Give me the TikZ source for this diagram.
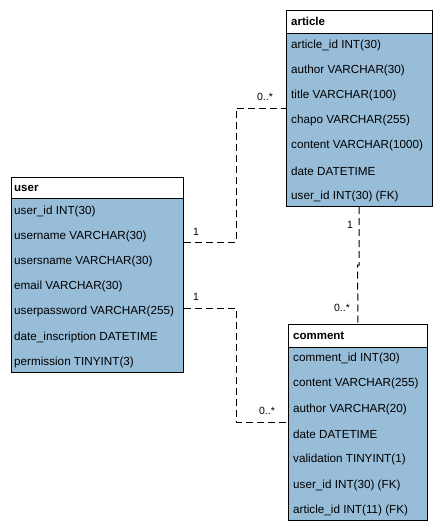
\documentclass[tikz,border=0pt]{standalone}
\usepackage{fontspec}
\setmainfont{Liberation Sans}
\definecolor{tblfill}{RGB}{151,189,217}
\begin{document}
\begin{tikzpicture}[x=1pt,y=-1pt,
  ttitle/.style={draw=black,line width=1pt,fill=white,rectangle,inner sep=0pt,anchor=north west},
  tbody/.style={draw=black,line width=1pt,fill=tblfill,rectangle,inner sep=0pt,anchor=north west},
  tname/.style={anchor=west,inner sep=0pt,font=\fontsize{11.5}{13}\selectfont\bfseries},
  row/.style={anchor=west,inner sep=0pt,font=\fontsize{11.7}{13}\selectfont},
  mult/.style={inner sep=0pt,font=\fontsize{10.5}{12}\selectfont},
  conn/.style={draw=black,line width=1pt,dash pattern=on 7pt off 4pt}]
\useasboundingbox (0,0) rectangle (441,530);
\fill[white] (0,0) rectangle (441,530);

% user table
\node[ttitle,minimum width=172pt,minimum height=21pt] (usertitle) at (11,177) {};
\node[tbody,minimum width=172pt,minimum height=174pt] (userbody) at (11,198) {};
\node[tname] (userlbl) at (14,188) {user};
\node[row] (u1) at (14,211) {user\_id INT(30)};
\node[row] (u2) at (14,236.2) {username VARCHAR(30)};
\node[row] (u3) at (14,261.4) {usersname VARCHAR(30)};
\node[row] (u4) at (14,286.6) {email VARCHAR(30)};
\node[row] (u5) at (14,311.8) {userpassword VARCHAR(255)};
\node[row] (u6) at (14,337) {date\_inscription DATETIME};
\node[row] (u7) at (14,362) {permission TINYINT(3)};

% article table
\node[ttitle,minimum width=146pt,minimum height=23pt] (articletitle) at (286,10) {};
\node[tbody,minimum width=146pt,minimum height=173pt] (articlebody) at (286,33) {};
\node[tname] (articlelbl) at (291,21.5) {article};
\node[row] (a1) at (291,45) {article\_id INT(30)};
\node[row] (a2) at (291,70.2) {author VARCHAR(30)};
\node[row] (a3) at (291,95.4) {title VARCHAR(100)};
\node[row] (a4) at (291,120.6) {chapo VARCHAR(255)};
\node[row] (a5) at (291,145.8) {content VARCHAR(1000)};
\node[row] (a6) at (291,171) {date DATETIME};
\node[row] (a7) at (291,196) {user\_id INT(30) (FK)};

% comment table
\node[ttitle,minimum width=139pt,minimum height=23pt] (commenttitle) at (288,324) {};
\node[tbody,minimum width=139pt,minimum height=173pt] (commentbody) at (288,347) {};
\node[tname] (commentlbl) at (293,335.5) {comment};
\node[row] (c1) at (293,358.5) {comment\_id INT(30)};
\node[row] (c2) at (293,383.8) {content VARCHAR(255)};
\node[row] (c3) at (293,409.1) {author VARCHAR(20)};
\node[row] (c4) at (293,434.4) {date DATETIME};
\node[row] (c5) at (293,459.7) {validation TINYINT(1)};
\node[row] (c6) at (293,485) {user\_id INT(30) (FK)};
\node[row] (c7) at (293,510) {article\_id INT(11) (FK)};

% connectors
\draw[conn] (userbody.east |- 0,242) -- (236,242) |- (articlebody.west |- 0,108);
\draw[conn] (articlebody.south -| 359,0) -- (359,265) -- (357.5,265) -- (commenttitle.north);
\draw[conn] (userbody.east |- 0,308) -- (236,308) |- (commentbody.west |- 0,422);

% multiplicities
\node[mult] (m1) at (196,231.5) {1};
\node[mult] (m2) at (265,97) {0..*};
\node[mult] (m3) at (350,224.5) {1};
\node[mult] (m4) at (342,308) {0..*};
\node[mult] (m5) at (196,296.5) {1};
\node[mult] (m6) at (267,411) {0..*};
\end{tikzpicture}
\end{document}
